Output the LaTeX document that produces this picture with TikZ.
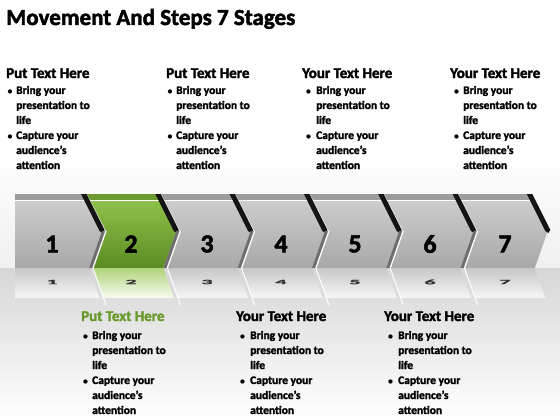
\documentclass[tikz,border=0pt]{standalone}
\usepackage{fontspec}
\setmainfont{Carlito}[BoldFeatures={FakeBold=2}]
\definecolor{grtop}{HTML}{D0D0D0}
\definecolor{grbot}{HTML}{A8A8A8}
\definecolor{grface}{HTML}{9C9C9C}
\definecolor{gntop}{HTML}{96C650}
\definecolor{gnbot}{HTML}{5A8C22}
\definecolor{gnface}{HTML}{6E9A32}
\definecolor{headgreen}{HTML}{6A9A2C}
\definecolor{gapgray}{HTML}{6E6E6E}
\newcommand\tblock[9]{%
  \node[head,text=#8] (#1h) at (#2,#3) {#7};
  \node[bul] (#1b1) at (#5,#4) {•};
  \node[txt] (#1l1) at (#6,#4) {Bring your};
  \node[txt] (#1l2) at (#6,#4+15) {presentation to};
  \node[txt] (#1l3) at (#6,#4+30) {life};
  \node[bul] (#1b2) at (#5,#4+45) {•};
  \node[txt] (#1l4) at (#6,#4+45) {Capture your};
  \node[txt] (#1l5) at (#6,#4+60) {audience’s};
  \node[txt] (#1l6) at (#6,#4+75) {attention};
}
\begin{document}
\begin{tikzpicture}[x=1pt,y=-1pt,
  head/.style={anchor=base west,inner sep=0,font=\fontsize{15}{15}\selectfont\bfseries},
  txt/.style={anchor=base west,inner sep=0,font=\fontsize{11.5}{12}\selectfont\bfseries},
  bul/.style={anchor=base west,inner sep=0,font=\fontsize{9}{12}\selectfont\bfseries},
  num/.style={inner sep=0,font=\fontsize{26}{26}\selectfont\bfseries},
  rnum/.style={inner sep=0,font=\fontsize{22}{22}\selectfont\bfseries,yscale=0.3,transform shape,text=black!80}]
\useasboundingbox (0,0) rectangle (560,420);
% background
\fill[white] (0,0) rectangle (560,420);
\shade[top color=white,bottom color=black!6] (0,150) rectangle (560,268);
\shade[top color=black!16,bottom color=white] (0,268) rectangle (560,420);
% title
\node[anchor=base west,inner sep=0,font=\fontsize{23}{23}\selectfont\bfseries] (title) at (6,25) {Movement And Steps 7 Stages};
% chevrons
\foreach \i in {1,...,7}{
  \pgfmathsetmacro\T{102+74.3*(\i-1)}
  \pgfmathsetmacro\P{\T-74.3}
  \ifnum\i=2
    \colorlet{ctop}{gntop}\colorlet{cbot}{gnbot}\colorlet{cface}{gnface}
  \else
    \colorlet{ctop}{grtop}\colorlet{cbot}{grbot}\colorlet{cface}{grface}
  \fi
  \ifnum\i=1
    \def\LP{(15,194) -- (15,268)}
    \def\RLP{(15,342) -- (15,268)}
  \else
    \def\LP{(\P-15,194) -- (\P+4,231) -- (\P-9,268)}
    \def\RLP{(\P-15,342) -- (\P+4,305) -- (\P-9,268)}
    \fill[gapgray] (\P-13,268) -- (\P,231) -- (\P+4,231) -- (\P-9,268) -- cycle;
  \fi
  \begin{scope}
    \clip \LP -- (\T-13,268) -- (\T,231) -- (\T-19,194) -- cycle;
    \shade[top color=ctop,bottom color=cbot] (0,194) rectangle (560,268);
    \fill[cface] (0,194) rectangle (560,199.5);
    \draw[white,line width=1.2pt] (0,200.2) -- (560,200.2);
  \end{scope}
  \ifnum\i>1
    \draw[white,line width=1.3pt] (\P+4,231) -- (\P-9,268);
  \fi
  \fill[black!92] (\T-21,194) -- (\T-15.5,194) -- (\T+2.5,230) -- (\T+0.5,233) -- (\T-2.5,231) -- cycle;
  % reflection
  \begin{scope}
    \clip (0,268) rectangle (560,297);
    \clip \RLP -- (\T-13,268) -- (\T,305) -- (\T-19,342) -- cycle;
    \ifnum\i=2
      \shade[top color=gntop!75!white,bottom color=gntop!10!white] (0,268) rectangle (560,297);
    \else
      \shade[top color=black!22,bottom color=black!4] (0,268) rectangle (560,297);
    \fi
  \end{scope}
  \ifnum\i>1
    \draw[white,line width=1pt] (\P+4,305) -- (\P-9,268);
  \fi
}
% numbers
\foreach \i/\x in {1/52,2/131,3/207,4/281,5/355,6/430,7/505}{
  \node[num] (n\i) at (\x,244) {\i};
  \node[rnum] (r\i) at (\x,282) {\i};
}
% text blocks
\tblock{a}{6}{78}{94}{7.5}{16}{Put Text Here}{black}{}
\tblock{b}{166}{78}{94}{167.5}{176}{Put Text Here}{black}{}
\tblock{c}{302}{78}{94}{306}{316}{Your Text Here}{black}{}
\tblock{d}{450}{78}{94}{454}{463}{Your Text Here}{black}{}
\tblock{e}{81}{321}{339}{83}{92}{Put Text Here}{headgreen}{}
\tblock{f}{236}{321}{339}{240}{250}{Your Text Here}{black}{}
\tblock{g}{384}{321}{339}{388}{398}{Your Text Here}{black}{}
\end{tikzpicture}
\end{document}
